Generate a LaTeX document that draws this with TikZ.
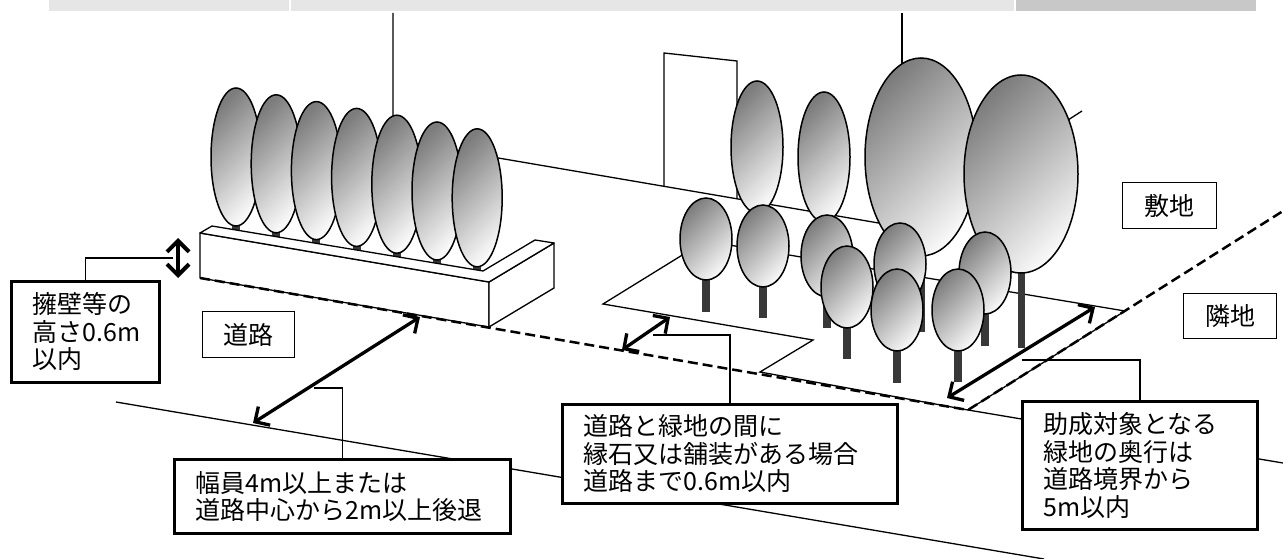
\documentclass[tikz,border=0pt]{standalone}
\usepackage{fontspec}
\setmainfont{Noto Sans CJK JP}
\usepackage{xcolor}
\usetikzlibrary{arrows.meta}

\begin{document}
\begin{tikzpicture}[x=1pt, y=-1pt]

	\definecolor{my_bar_light}{RGB}{230,230,230}
\definecolor{my_bar_dark}{RGB}{200,200,200}
\definecolor{my_trunk}{RGB}{56,56,56}
\definecolor{my_crown_dark}{RGB}{125,125,125}
\definecolor{my_crown_light}{RGB}{248,248,248}

\tikzstyle{thin_line} = [draw, line width=1.3pt]
\tikzstyle{dash_line} = [draw, line width=2.5pt, dash pattern=on 10pt off 5pt]
\tikzstyle{measure} = [draw, line width=3.3pt, {Straight Barb[length=11pt,width=22pt]}-{Straight Barb[length=11pt,width=22pt]}]
\tikzstyle{leader} = [draw, line width=1.3pt]
\tikzstyle{label_box} = [rectangle, draw, line width=2.7pt, fill=white, anchor=north west, align=left, inner sep=0pt, inner xsep=21pt, font=\fontsize{25}{27.5}\selectfont]
\tikzstyle{name_box} = [rectangle, draw, line width=1.3pt, fill=white, anchor=north west, inner sep=0pt, font=\fontsize{25}{27.5}\selectfont]
\tikzstyle{crown} = [draw, line width=1.5pt, top color=my_crown_dark, bottom color=my_crown_light, shading angle=45]
\tikzstyle{trunk} = [fill=my_trunk]
\tikzstyle{wall_face} = [draw, line width=1.3pt, fill=white, line join=round]

	\useasboundingbox (0,0) rectangle (1283,559);
	\fill [white] (0,0) rectangle (1283,559);

	\fill [my_bar_light] (49,0) rectangle (289,11);
	\fill [my_bar_light] (291,0) rectangle (1014,11);
	\fill [my_bar_dark] (1016,0) rectangle (1256,11);

	% building and door
	\path [thin_line] (393,13) -- (393,140) -- (902,227) -- (1082,111);
	\path [thin_line] (902,13) -- (902,227);
	\path [thin_line] (664,187) -- (664,53) -- (737,61) -- (737,199);

	% green area
	\path [thin_line] (760,372) -- (813,340) -- (603,304) -- (705,241) -- (1125,311) -- (968,410) -- cycle;

	\foreach \x/\y/\rx/\ry in {757/147/26/66, 824/157/26/65}
		\path [crown] (\x,\y) ellipse [x radius=\rx, y radius=\ry];
	\foreach \x/\y/\rx/\ry/\t in {921/157/56/99/332, 1021/174/57/99/348}
	{
		\fill [trunk] (\x-3.5,\y) rectangle (\x+3.5,\t);
		\path [crown] (\x,\y) ellipse [x radius=\rx, y radius=\ry];
	}
	\foreach \x/\y/\t in {706/239/312, 763/246/318, 827/256/328, 900/264/335, 985/273/346, 847/287/359, 897/310/383, 958/310/382}
	{
		\fill [trunk] (\x-4,\y) rectangle (\x+4,\t);
		\path [crown] (\x,\y) ellipse [x radius=26, y radius=41];
	}

	% trees on the wall
	\foreach \i in {0,...,6}
	{
		\pgfmathsetmacro{\cx}{236+40.2*\i}
		\pgfmathsetmacro{\cy}{157+6.8*\i}
		\fill [trunk] (\cx-4,\cy) rectangle (\cx+4,\cy+76);
		\path [crown] (\cx,\cy) ellipse [x radius=25, y radius=69];
	}

	\path [wall_face] (200,233) -- (489,282) -- (489,327) -- (200,278) -- cycle;
	\path [wall_face] (489,282) -- (554,243) -- (554,288) -- (489,327) -- cycle;
	\path [wall_face] (200,233) -- (212,226) -- (483,271) -- (535,240) -- (554,243) -- (489,282) -- cycle;

	% road
	\path [thin_line] (116,402) -- (1044,559);
	\path [thin_line] (968,410) -- (1283,463);
	\path [dash_line] (200,278) -- (968,410) -- (1283,211);

	\coordinate (wall_top) at (178,238);
	\coordinate (wall_bottom) at (178,278);
	\coordinate (road_near) at (420,317);
	\coordinate (road_far) at (253,423);
	\coordinate (kerb_front) at (622,350);
	\coordinate (kerb_back) at (670,317);
	\coordinate (depth_front) at (947,398);
	\coordinate (depth_back) at (1095,307);

	\path [measure, line width=4pt] (wall_top) -- (wall_bottom);
	\path [measure] (road_near) -- (road_far);
	\path [measure] (kerb_front) -- (kerb_back);
	\path [measure] (depth_front) -- (depth_back);

	\node [label_box, text width=106pt, minimum height=101pt] (box_wall) at (10,280) {擁壁等の\\高さ0.6m\\以内};
	\node [label_box, text width=294pt, minimum height=74pt] (box_width) at (173,458) {幅員4m以上または\\道路中心から2m以上後退};
	\node [label_box, text width=293pt, minimum height=99pt] (box_kerb) at (561,403) {道路と緑地の間に\\縁石又は舗装がある場合\\道路まで0.6m以内};
	\node [label_box, text width=193pt, minimum height=128pt] (box_depth) at (1021,400) {助成対象となる\\緑地の奥行は\\道路境界から\\5m以内};

	\node [name_box, minimum width=92pt, minimum height=46pt] (road) at (202,311) {道路};
	\node [name_box, minimum width=94pt, minimum height=46pt] (site) at (1122,182) {敷地};
	\node [name_box, minimum width=93pt, minimum height=45pt] (neighbour) at (1183,293) {隣地};

	\coordinate (wall_lead) at (173,258);
	\coordinate (width_lead) at (314,388);
	\coordinate (kerb_lead) at (653,335);
	\coordinate (depth_lead) at (1022,360);

	\path [leader] (wall_lead) -| (box_wall.north);
	\path [leader] (width_lead) -| (box_width.north);
	\path [leader] (kerb_lead) -| (box_kerb.north);
	\path [leader] (depth_lead) -| (box_depth.north);

\end{tikzpicture}
\end{document}
